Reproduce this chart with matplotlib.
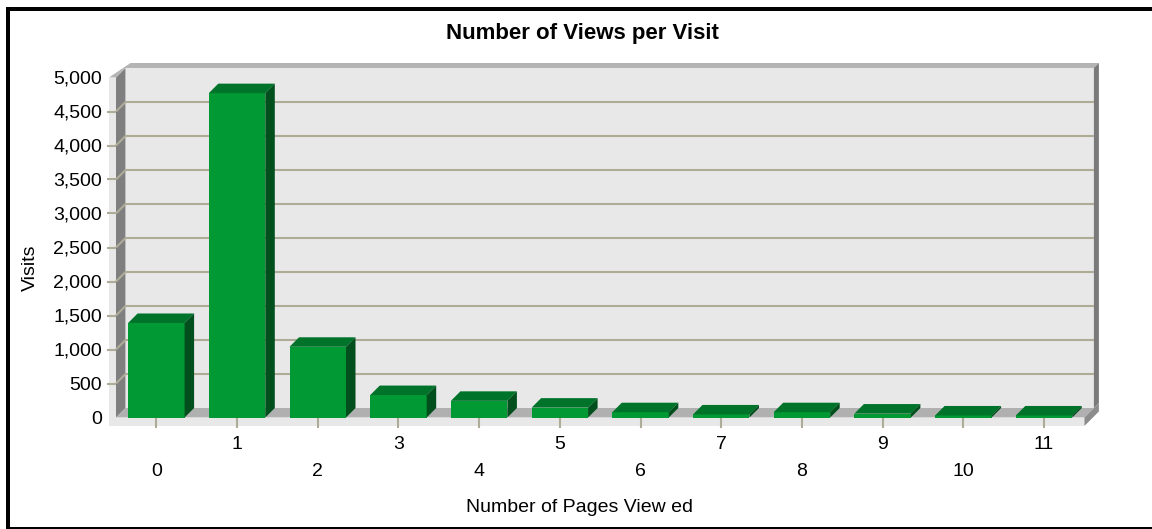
import matplotlib
matplotlib.use("Agg")
import matplotlib.pyplot as plt
from matplotlib.patches import Polygon, Rectangle

plt.rcParams['font.family'] = ['Liberation Sans', 'DejaVu Sans']

# data
pages = list(range(12))
page_labels = [str(p) for p in pages]
visits = [1390, 4770, 1040, 330, 245, 145, 78, 45, 78, 58, 30, 30]
y_ticks = [0, 500, 1000, 1500, 2000, 2500, 3000, 3500, 4000, 4500, 5000]
y_labels = [f'{v:,}' for v in y_ticks]

W, H = 1152, 529
fig = plt.figure(figsize=(W / 100, H / 100), dpi=100)

# front plane of the pseudo-3d box, in pixels
left, right, top, bottom = 116, 1084.4, 77.5, 417.5
ax = fig.add_axes([left / W, 1 - bottom / H, (right - left) / W, (bottom - top) / H])
ax.set_xlim(-0.5, 11.5)
ax.set_ylim(0, 5000)
ax.set_facecolor('none')
for s in ax.spines.values():
    s.set_visible(False)

ux = (right - left) / 12
uy = (bottom - top) / 5000


def px_x(p):
    return p / ux


def px_y(p):
    return p / uy


D = 9.5
ddx, ddy = px_x(D), px_y(D)
x0, x1, y1 = -0.5, 11.5, 5000
fs_x, fs_y = px_x(7), px_y(8.5)   # front strip thickness
bt_x, bt_y = px_x(5), px_y(5)     # back wall thickness

light = '#e8e8e8'
wall = []
wall.append(Rectangle((x0 + ddx, ddy), x1 - x0, y1, fc=light))
wall.append(Polygon([(x0, 0), (x0, y1), (x0 + ddx, y1 + ddy), (x0 + ddx, ddy)], fc='#7f7f7f'))
wall.append(Rectangle((x0 - fs_x, -fs_y), fs_x, y1 + fs_y, fc=light))
wall.append(Polygon([(x0 - fs_x, y1), (x0, y1), (x0 + ddx, y1 + ddy), (x1 + ddx, y1 + ddy),
                     (x1 + ddx + bt_x, y1 + ddy + bt_y),
                     (x0 + ddx + bt_x, y1 + ddy + bt_y)], fc='#b4b4b4'))
wall.append(Polygon([(x1 + ddx, y1 + ddy), (x1 + ddx + bt_x, y1 + ddy + bt_y),
                     (x1 + ddx + bt_x, ddy + bt_y), (x1 + ddx, ddy)], fc='#7a7a7a'))
wall.append(Polygon([(x0, 0), (x1, 0), (x1 + ddx, ddy), (x0 + ddx, ddy)], fc='#b0b0b0'))
wall.append(Rectangle((x0 - fs_x, -fs_y), x1 - x0 + fs_x, fs_y, fc=light))
wall.append(Polygon([(x1, 0), (x1, -fs_y), (x1 + ddx + bt_x, -fs_y + ddy + bt_y),
                     (x1 + ddx + bt_x, ddy + bt_y), (x1 + ddx, ddy)], fc='#8c8c8c'))
for p in wall:
    p.set_edgecolor('none')
    p.set_clip_on(False)
    p.set_zorder(0.5)
    ax.add_patch(p)

grid_c = '#aeab99'
for v in y_ticks[1:-1]:
    ax.plot([x0, x0 + ddx, x1 + ddx], [v, v + ddy, v + ddy], color=grid_c, lw=1.5,
            clip_on=False, zorder=0.8, solid_capstyle='butt')

# bars: front faces, then top and side faces
bw = 0.7
ax.bar(pages, visits, width=bw, color='#009933', zorder=2)
for x, v in zip(pages, visits):
    a, b = x - bw / 2, x + bw / 2
    ax.add_patch(Polygon([(a, v), (b, v), (b + ddx, v + ddy), (a + ddx, v + ddy)],
                         fc='#00732a', ec='none', zorder=2, clip_on=False))
    ax.add_patch(Polygon([(b, 0), (b, v), (b + ddx, v + ddy), (b + ddx, ddy)],
                         fc='#004f1c', ec='none', zorder=2, clip_on=False))

ax.set_axisbelow(False)
ax.set_yticks(y_ticks, y_labels)
ax.tick_params(axis='y', length=6.5, width=1.5, color=grid_c, pad=3.5, labelsize=14)
ax.yaxis.get_major_ticks()[0].tick1line.set_visible(False)
ax.yaxis.get_major_ticks()[-1].tick1line.set_visible(False)

ax.set_xticks(pages[0::2], page_labels[0::2])
ax.set_xticks(pages[1::2], page_labels[1::2], minor=True)
ax.tick_params(axis='x', which='both', length=7, width=1.5, color=grid_c, labelsize=14)
ax.tick_params(axis='x', which='major', pad=25.5)
ax.tick_params(axis='x', which='minor', pad=6)

fig.text(582 / W, 1 - 33 / H, 'Number of Views per Visit', ha='center', va='center',
         fontsize=16, fontweight='bold')
fig.text(580 / W, 1 - 507 / H, 'Number of Pages View ed', ha='center', va='center', fontsize=14)
fig.text(30 / W, 1 - 268 / H, 'Visits', rotation=90, ha='center', va='center', fontsize=14)

# outer frame
fig.add_artist(Rectangle((6 / W, 1 - 11 / H), 1, 4 / H, transform=fig.transFigure,
                         fc='black', ec='none'))
fig.add_artist(Rectangle((6 / W, 0), 4 / W, 1 - 7 / H, transform=fig.transFigure,
                         fc='black', ec='none'))
fig.add_artist(Rectangle((6 / W, 0), 1, 2 / H, transform=fig.transFigure,
                         fc='black', ec='none'))

fig.savefig('out.png', dpi=100)
